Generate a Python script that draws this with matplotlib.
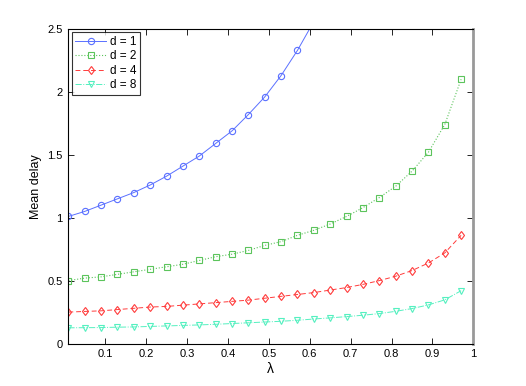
import numpy as np
import matplotlib
matplotlib.use('Agg')
import matplotlib.pyplot as plt

# lambda values (0.01 .. 0.97, step 0.04)
lam = [0.01, 0.05, 0.09, 0.13, 0.17, 0.21, 0.25, 0.29, 0.33, 0.37, 0.41, 0.45, 0.49,
       0.53, 0.57, 0.61, 0.65, 0.69, 0.73, 0.77, 0.81, 0.85, 0.89, 0.93, 0.97]

# mean delay
d1 = [1.01, 1.05, 1.10, 1.15, 1.20, 1.26, 1.33, 1.41, 1.49, 1.59, 1.69, 1.82, 1.96,
      2.13, 2.33, 2.56, 2.86, 3.23]
d2 = [0.50, 0.52, 0.53, 0.55, 0.57, 0.59, 0.61, 0.63, 0.66, 0.69, 0.71, 0.74, 0.78,
      0.81, 0.86, 0.90, 0.95, 1.01, 1.08, 1.16, 1.25, 1.37, 1.52, 1.74, 2.10]
d4 = [0.25, 0.255, 0.26, 0.27, 0.28, 0.29, 0.295, 0.305, 0.315, 0.325, 0.335, 0.345, 0.36,
      0.375, 0.39, 0.405, 0.425, 0.445, 0.47, 0.50, 0.535, 0.58, 0.64, 0.72, 0.86]
d8 = [0.125, 0.126, 0.127, 0.13, 0.132, 0.136, 0.14, 0.144, 0.148, 0.153, 0.159, 0.165, 0.171,
      0.177, 0.185, 0.195, 0.204, 0.214, 0.225, 0.238, 0.256, 0.278, 0.307, 0.347, 0.42]

xticks = [0.1, 0.2, 0.3, 0.4, 0.5, 0.6, 0.7, 0.8, 0.9, 1]
xticklabels = ['0.1', '0.2', '0.3', '0.4', '0.5', '0.6', '0.7', '0.8', '0.9', '1']
yticks = [0, 0.5, 1, 1.5, 2, 2.5]
yticklabels = ['0', '0.5', '1', '1.5', '2', '2.5']

plt.rcParams['font.family'] = ['Liberation Sans', 'DejaVu Sans']

fig = plt.figure(figsize=(5.26, 3.86), dpi=100)
ax = fig.add_axes([0.13, 0.11, 0.77, 0.815])

ax.plot(lam[:len(d1)], d1, '-o', color='#5a70ff', lw=0.7, ms=4.5, mfc='none', mew=0.8, label='d = 1')
ax.plot(lam, d2, ':s', color='#5cc45c', lw=0.8, ms=4, mfc='none', mew=0.8, label='d = 2')
ax.plot(lam, d4, '--d', color='#ff3b3b', lw=0.7, ms=4.5, mfc='none', mew=0.8, label='d = 4', dashes=(5, 3))
ax.plot(lam, d8, '-.v', color='#55f0c0', lw=0.7, ms=4.5, mfc='none', mew=0.8, label='d = 8')

ax.set_xlim(0.01, 1)
ax.set_ylim(0, 2.5)
ax.set_xticks(xticks)
ax.set_xticklabels(xticklabels)
ax.set_yticks(yticks)
ax.set_yticklabels(yticklabels)
ax.tick_params(direction='in', top=True, right=True, labelsize=8, length=4, width=0.6, pad=4)
for s in ['left', 'bottom', 'top']:
    ax.spines[s].set_linewidth(0.8)
ax.spines['right'].set_color('#999999')
ax.spines['right'].set_linewidth(2)

ax.set_xlabel('λ', fontsize=10, labelpad=2)
ax.set_ylabel('Mean delay', fontsize=9, labelpad=4)

leg = ax.legend(loc='upper left', fontsize=8.5, fancybox=False, edgecolor='black',
                handlelength=2.6, borderaxespad=0.3, labelspacing=0.2,
                handletextpad=0.3, borderpad=0.3)
leg.get_frame().set_linewidth(0.8)

fig.savefig('out.png', dpi=100)
